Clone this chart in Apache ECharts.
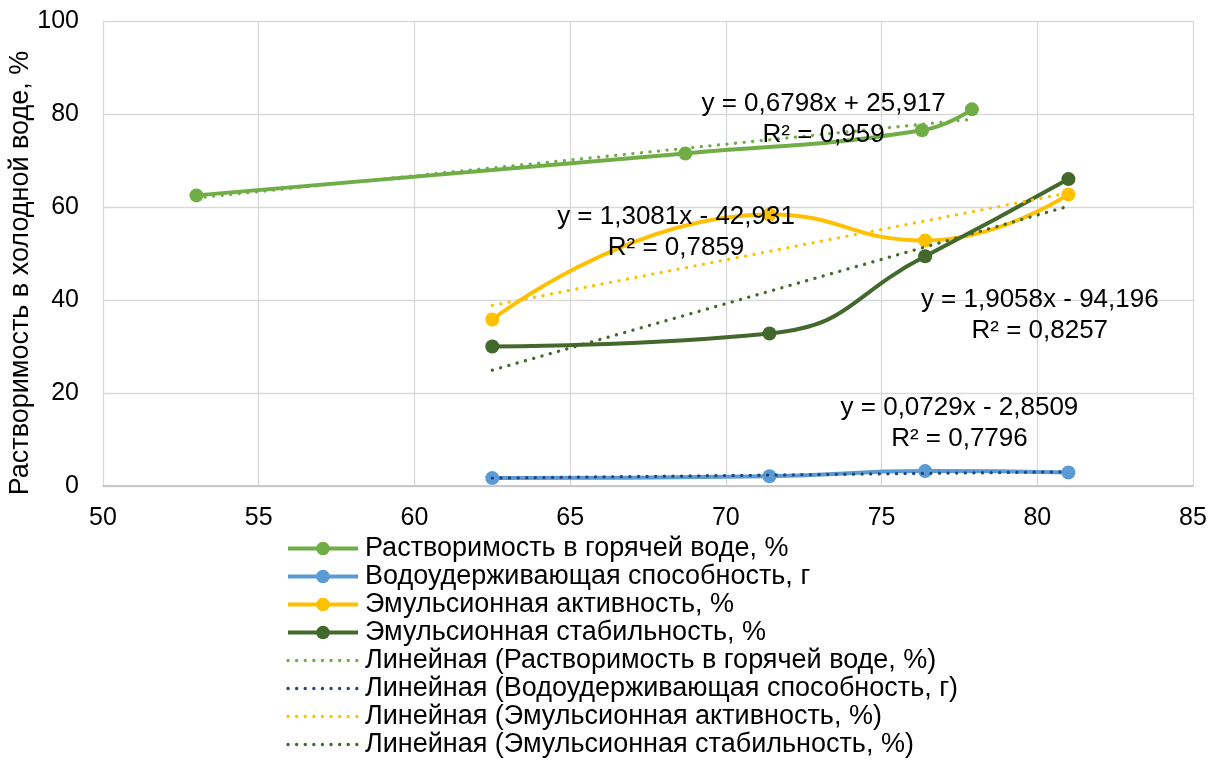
<!DOCTYPE html>
<html>
<head>
<meta charset="utf-8">
<script src="https://cdn.jsdelivr.net/npm/echarts@6/dist/echarts.min.js"></script>
<style>html,body{margin:0;padding:0;background:#fff;}#c{width:1217px;height:763px;}</style>
</head>
<body>
<div id="c"></div>
<script>
// ---- data ----
const xHot = [53.0, 68.7, 76.3, 77.9];
const solubilityHot = [62.5, 71.5, 76.5, 81.0];
const xOther = [62.5, 71.4, 76.4, 81.0];
const waterHolding = [1.7, 2.1, 3.2, 2.9];
const emulActivity = [35.8, 58.4, 52.8, 62.7];
const emulStability = [30.0, 32.8, 49.4, 66.0];
// trendline end points
const trendHotX = [53.0, 77.9];
const trendHotY = [61.95, 78.87];
const trendOtherX = [62.5, 81.0];
const trendWaterY = [1.70, 3.05];
const trendActivityY = [38.82, 63.02];
const trendStabilityY = [24.92, 60.17];
const seriesNames = [
  'Растворимость в горячей воде, %',
  'Водоудерживающая способность, г',
  'Эмульсионная активность, %',
  'Эмульсионная стабильность, %'
];
const trendNames = seriesNames.map(n => 'Линейная (' + n + ')');
const equations = [
  'y = 0,6798x + 25,917\nR² = 0,959',
  'y = 0,0729x - 2,8509\nR² = 0,7796',
  'y = 1,3081x - 42,931\nR² = 0,7859',
  'y = 1,9058x - 94,196\nR² = 0,8257'
];
const xTicks = [50, 55, 60, 65, 70, 75, 80, 85];
const yTicks = [0, 20, 40, 60, 80, 100];
const yAxisTitle = 'Растворимость в холодной воде, %';

// ---- styling ----
const FONT = '"Liberation Sans", Arial, sans-serif';
const colors = ['#70AD47', '#5B9BD5', '#FFC000', '#43682B'];
const trendColors = ['#70AD47', '#264478', '#FFC000', '#43682B'];
const eqPos = [[73.14, 78.8], [77.5, 13.5], [68.4, 54.5], [80.08, 36.7]];

const zip = (xs, ys) => xs.map((x, i) => [x, ys[i]]);
const mainData = [zip(xHot, solubilityHot), zip(xOther, waterHolding), zip(xOther, emulActivity), zip(xOther, emulStability)];
const trendData = [zip(trendHotX, trendHotY), zip(trendOtherX, trendWaterY), zip(trendOtherX, trendActivityY), zip(trendOtherX, trendStabilityY)];

const series = [];
mainData.forEach((d, i) => {
  series.push({
    name: seriesNames[i], type: 'line', data: d, smooth: 0.5,
    symbol: 'circle', symbolSize: 14, showSymbol: true,
    lineStyle: { color: colors[i], width: 4 },
    itemStyle: { color: colors[i] },
    z: 2, animation: false, silent: true
  });
});
trendData.forEach((d, i) => {
  series.push({
    name: trendNames[i], type: 'line', data: d,
    symbol: 'none', showSymbol: false,
    lineStyle: { color: trendColors[i], width: 3.3, type: [0.1, 8.5], cap: 'round' },
    itemStyle: { color: 'rgba(0,0,0,0)' },
    z: 3, animation: false, silent: true
  });
});
series.push({
  name: '__eq', type: 'scatter', data: [], z: 10, silent: true, animation: false,
  markPoint: {
    symbol: 'circle', symbolSize: 1, silent: true, animation: false,
    itemStyle: { color: 'rgba(0,0,0,0)' },
    label: { show: true, position: 'inside', color: '#000', fontSize: 26, lineHeight: 31, fontFamily: FONT, formatter: p => p.name },
    data: equations.map((e, i) => ({ name: e, coord: eqPos[i] }))
  }
});

const legendData = seriesNames.map(n => ({ name: n, lineStyle: { width: 4 } }))
  .concat(trendNames.map(n => ({ name: n, lineStyle: { width: 3.3 }, itemStyle: { opacity: 0 } })));

const chart = echarts.init(document.getElementById('c'), null, { renderer: 'canvas' });
chart.setOption({
  animation: false,
  backgroundColor: '#fff',
  textStyle: { fontFamily: FONT },
  grid: { left: 103, right: 24, top: 21, bottom: 277, containLabel: false },
  xAxis: {
    type: 'value', min: xTicks[0], max: xTicks[xTicks.length - 1], interval: 5,
    axisLine: { show: true, onZero: false, lineStyle: { color: '#bfbfbf', width: 1.5 } },
    axisTick: { show: false },
    axisLabel: { color: '#000', fontSize: 25, fontFamily: FONT, margin: 20 },
    splitLine: { show: true, lineStyle: { color: '#d9d9d9', width: 1.3 } }
  },
  yAxis: {
    type: 'value', min: yTicks[0], max: yTicks[yTicks.length - 1], interval: 20,
    axisLine: { show: false },
    axisTick: { show: false },
    axisLabel: { color: '#000', fontSize: 25, fontFamily: FONT, margin: 24 },
    splitLine: { show: true, lineStyle: { color: '#d9d9d9', width: 1.3 } }
  },
  graphic: [{
    type: 'text', x: 21, y: 273, rotation: Math.PI / 2, silent: true,
    style: { text: yAxisTitle, fill: '#000', font: '27px "Liberation Sans", Arial, sans-serif', align: 'center', verticalAlign: 'middle' }
  }],
  legend: {
    orient: 'vertical', left: 286, top: 535, padding: 0,
    itemWidth: 70, itemHeight: 17, itemGap: 1,
    data: legendData,
    textStyle: { color: '#000', fontSize: 27, lineHeight: 27, fontFamily: FONT, padding: [0, 0, 0, 2] },
    selectedMode: false
  },
  series: series
});
</script>
</body>
</html>
